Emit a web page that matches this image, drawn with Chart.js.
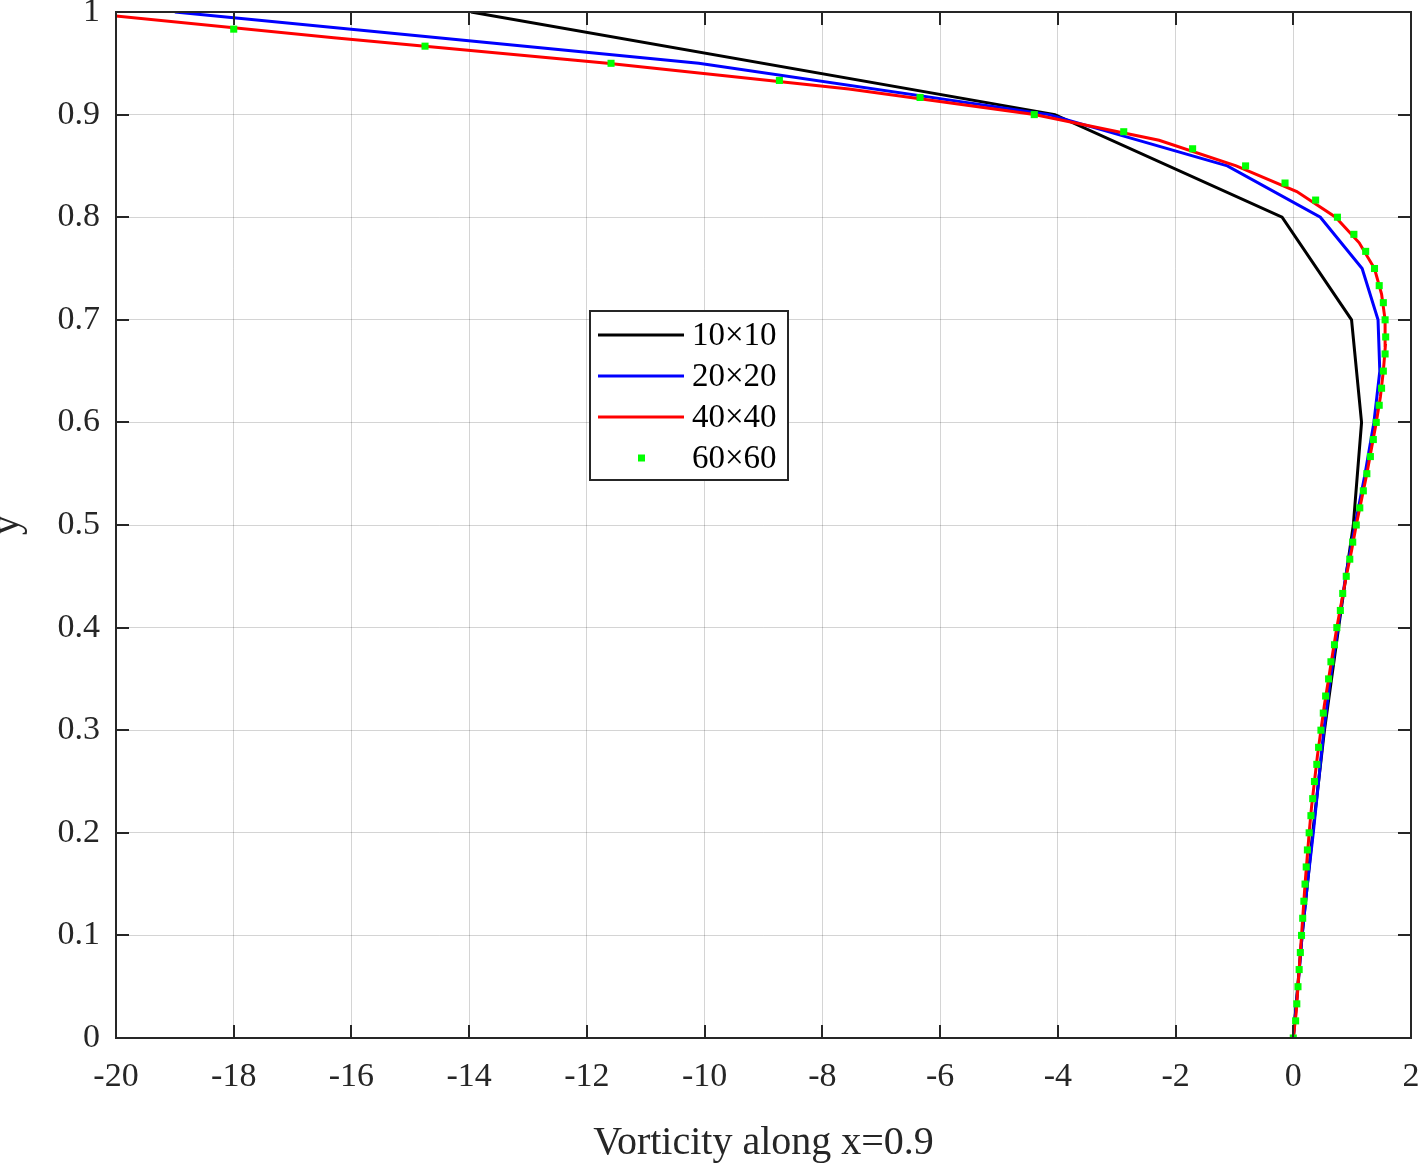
<!DOCTYPE html>
<html>
<head>
<meta charset="utf-8">
<script src="https://cdn.jsdelivr.net/npm/chart.js@4.4.1/dist/chart.umd.min.js"></script>
<style>
  html, body { margin: 0; padding: 0; background: #fff; overflow: hidden; }
</style>
</head>
<body>
<canvas id="vortChart" width="1418" height="1163"></canvas>
<script>
// tick values
const xTicks = [-20, -18, -16, -14, -12, -10, -8, -6, -4, -2, 0, 2];
const yTicks = [0, 0.1, 0.2, 0.3, 0.4, 0.5, 0.6, 0.7, 0.8, 0.9, 1];

// 10x10 grid
const y10 = [0, 0.1, 0.2, 0.3, 0.4, 0.5, 0.6, 0.7, 0.8, 0.9, 1];
const w10 = [0, 0.15, 0.33, 0.53, 0.77, 1.02, 1.16, 0.99, -0.19, -4.05, -13.97];

// 20x20 grid
const y20 = [0, 0.05, 0.1, 0.15, 0.2, 0.25, 0.3, 0.35, 0.4, 0.45, 0.5,
             0.55, 0.6, 0.65, 0.7, 0.75, 0.8, 0.85, 0.9, 0.95, 1];
const w20 = [0, 0.08, 0.15, 0.24, 0.34, 0.43, 0.52, 0.63, 0.76, 0.89, 1.05,
             1.22, 1.37, 1.47, 1.44, 1.17, 0.46, -1.12, -4.15, -10.1, -19.0];

// 40x40 grid
const y40 = [0, 0.025, 0.05, 0.075, 0.1, 0.125, 0.15, 0.175, 0.2, 0.225,
             0.25, 0.275, 0.3, 0.325, 0.35, 0.375, 0.4, 0.425, 0.45, 0.475,
             0.5, 0.525, 0.55, 0.575, 0.6, 0.625, 0.65, 0.675, 0.7, 0.725,
             0.75, 0.775, 0.8, 0.825, 0.85, 0.875, 0.9, 0.925, 0.95, 0.975, 1];
const w40 = [0, 0.05, 0.08, 0.11, 0.14, 0.17, 0.20, 0.235, 0.27, 0.31,
             0.36, 0.41, 0.47, 0.53, 0.60, 0.67, 0.74, 0.82, 0.90, 0.99,
             1.07, 1.16, 1.25, 1.33, 1.41, 1.48, 1.53, 1.565, 1.56, 1.50,
             1.38, 1.12, 0.72, 0.06, -0.97, -2.28, -4.40, -7.55, -11.65, -16.3, -20.7];

// 60x60 grid
const y60 = [0, 0.0167, 0.0333, 0.05, 0.0667, 0.0833, 0.1, 0.1167, 0.1333, 0.15,
             0.1667, 0.1833, 0.2, 0.2167, 0.2333, 0.25, 0.2667, 0.2833, 0.3, 0.3167,
             0.3333, 0.35, 0.3667, 0.3833, 0.4, 0.4167, 0.4333, 0.45, 0.4667, 0.4833,
             0.5, 0.5167, 0.5333, 0.55, 0.5667, 0.5833, 0.6, 0.6167, 0.6333, 0.65,
             0.6667, 0.6833, 0.7, 0.7167, 0.7333, 0.75, 0.7667, 0.7833, 0.8, 0.8167,
             0.8333, 0.85, 0.8667, 0.8833, 0.9, 0.9167, 0.9333, 0.95, 0.9667, 0.9833, 1];
const w60 = [0, 0.04, 0.06, 0.08, 0.10, 0.12, 0.14, 0.16, 0.18, 0.20,
             0.22, 0.24, 0.27, 0.30, 0.33, 0.36, 0.40, 0.43, 0.47, 0.51,
             0.55, 0.60, 0.64, 0.70, 0.74, 0.80, 0.84, 0.90, 0.96, 1.01,
             1.07, 1.13, 1.19, 1.25, 1.31, 1.36, 1.41, 1.46, 1.50, 1.53,
             1.56, 1.57, 1.56, 1.53, 1.46, 1.38, 1.23, 1.03, 0.75, 0.38,
             -0.14, -0.81, -1.71, -2.88, -4.40, -6.34, -8.73, -11.59, -14.75, -18.00, -21.4];

const pts = (ws, ys) => ws.map((w, i) => ({ x: w, y: ys[i] }));

const FONT = "'Liberation Serif', 'Times New Roman', serif";
const AX = '#262626';

// box, inward ticks and legend drawn over the plot
const matlabAxes = {
  id: 'matlabAxes',
  afterDraw(chart) {
    const { ctx, chartArea: a, scales: { x, y } } = chart;
    ctx.save();
    ctx.strokeStyle = AX;
    ctx.lineWidth = 2;
    ctx.beginPath();
    xTicks.forEach(v => {
      const px = Math.round(x.getPixelForValue(v));
      ctx.moveTo(px, a.bottom); ctx.lineTo(px, a.bottom - 13);
      ctx.moveTo(px, a.top); ctx.lineTo(px, a.top + 13);
    });
    yTicks.forEach(v => {
      const py = Math.round(y.getPixelForValue(v));
      ctx.moveTo(a.left, py); ctx.lineTo(a.left + 13, py);
      ctx.moveTo(a.right, py); ctx.lineTo(a.right - 13, py);
    });
    ctx.stroke();
    ctx.strokeRect(a.left, a.top, a.right - a.left, a.bottom - a.top);

    // legend
    const lx = 590, ly = 311, lw = 198, lh = 169;
    ctx.fillStyle = '#fff';
    ctx.fillRect(lx, ly, lw, lh);
    ctx.strokeRect(lx, ly, lw, lh);
    ctx.font = '33px ' + FONT;
    ctx.textBaseline = 'middle';
    chart.data.datasets.forEach((ds, i) => {
      const ry = ly + 24 + i * 41;
      if (ds.showLine === false) {
        ctx.fillStyle = ds.pointBackgroundColor;
        ctx.fillRect(638, ry - 3.5, 7, 7);
      } else {
        ctx.strokeStyle = ds.borderColor;
        ctx.lineWidth = ds.borderWidth;
        ctx.beginPath();
        ctx.moveTo(598, ry); ctx.lineTo(684, ry);
        ctx.stroke();
      }
      ctx.fillStyle = '#000';
      ctx.fillText(ds.label, 692, ry + 1);
    });
    ctx.restore();
  }
};

const ctx = document.getElementById('vortChart').getContext('2d');
const vortChart = new Chart(ctx, {
  type: 'scatter',
  data: {
    datasets: [
      { label: '10×10', data: pts(w10, y10), showLine: true, borderColor: '#000000',
        borderWidth: 3, pointRadius: 0, order: 4 },
      { label: '20×20', data: pts(w20, y20), showLine: true, borderColor: '#0000ff',
        borderWidth: 3, pointRadius: 0, order: 3 },
      { label: '40×40', data: pts(w40, y40), showLine: true, borderColor: '#ff0000',
        borderWidth: 3, pointRadius: 0, order: 2 },
      { label: '60×60', data: pts(w60, y60), showLine: false, pointStyle: 'rect',
        pointRadius: 5, pointBorderWidth: 0, pointBackgroundColor: '#00ff00',
        borderColor: '#00ff00', order: 1 }
    ]
  },
  options: {
    responsive: false,
    animation: false,
    devicePixelRatio: 1,
    layout: { padding: { top: 12, right: 7, left: 0, bottom: 0 } },
    plugins: {
      legend: { display: false },
      tooltip: { enabled: false }
    },
    scales: {
      x: {
        type: 'linear',
        min: -20,
        max: 2,
        afterBuildTicks: s => { s.ticks = xTicks.map(v => ({ value: v })); },
        afterFit: s => { s.height = 125; s.paddingLeft = 0; s.paddingRight = 0; },
        grid: { color: 'rgba(0,0,0,0.17)', lineWidth: 1, drawTicks: false },
        border: { display: false },
        ticks: {
          padding: 19,
          color: AX,
          font: { family: FONT, size: 34 },
          callback: v => String(v)
        },
        title: {
          display: true,
          text: 'Vorticity along x=0.9',
          color: AX,
          padding: 0,
          font: { family: FONT, size: 40, lineHeight: 1.0 }
        }
      },
      y: {
        type: 'linear',
        min: 0,
        max: 1,
        afterBuildTicks: s => { s.ticks = yTicks.map(v => ({ value: v })); },
        afterFit: s => { s.width = 116; s.paddingTop = 0; s.paddingBottom = 0; },
        grid: { color: 'rgba(0,0,0,0.17)', lineWidth: 1, drawTicks: false },
        border: { display: false },
        ticks: {
          padding: 16,
          color: AX,
          font: { family: FONT, size: 34 },
          callback: v => String(v)
        },
        title: {
          display: true,
          text: 'y',
          color: AX,
          padding: 0,
          font: { family: FONT, size: 40, lineHeight: 0.35 }
        }
      }
    }
  },
  plugins: [matlabAxes]
});
</script>
</body>
</html>
